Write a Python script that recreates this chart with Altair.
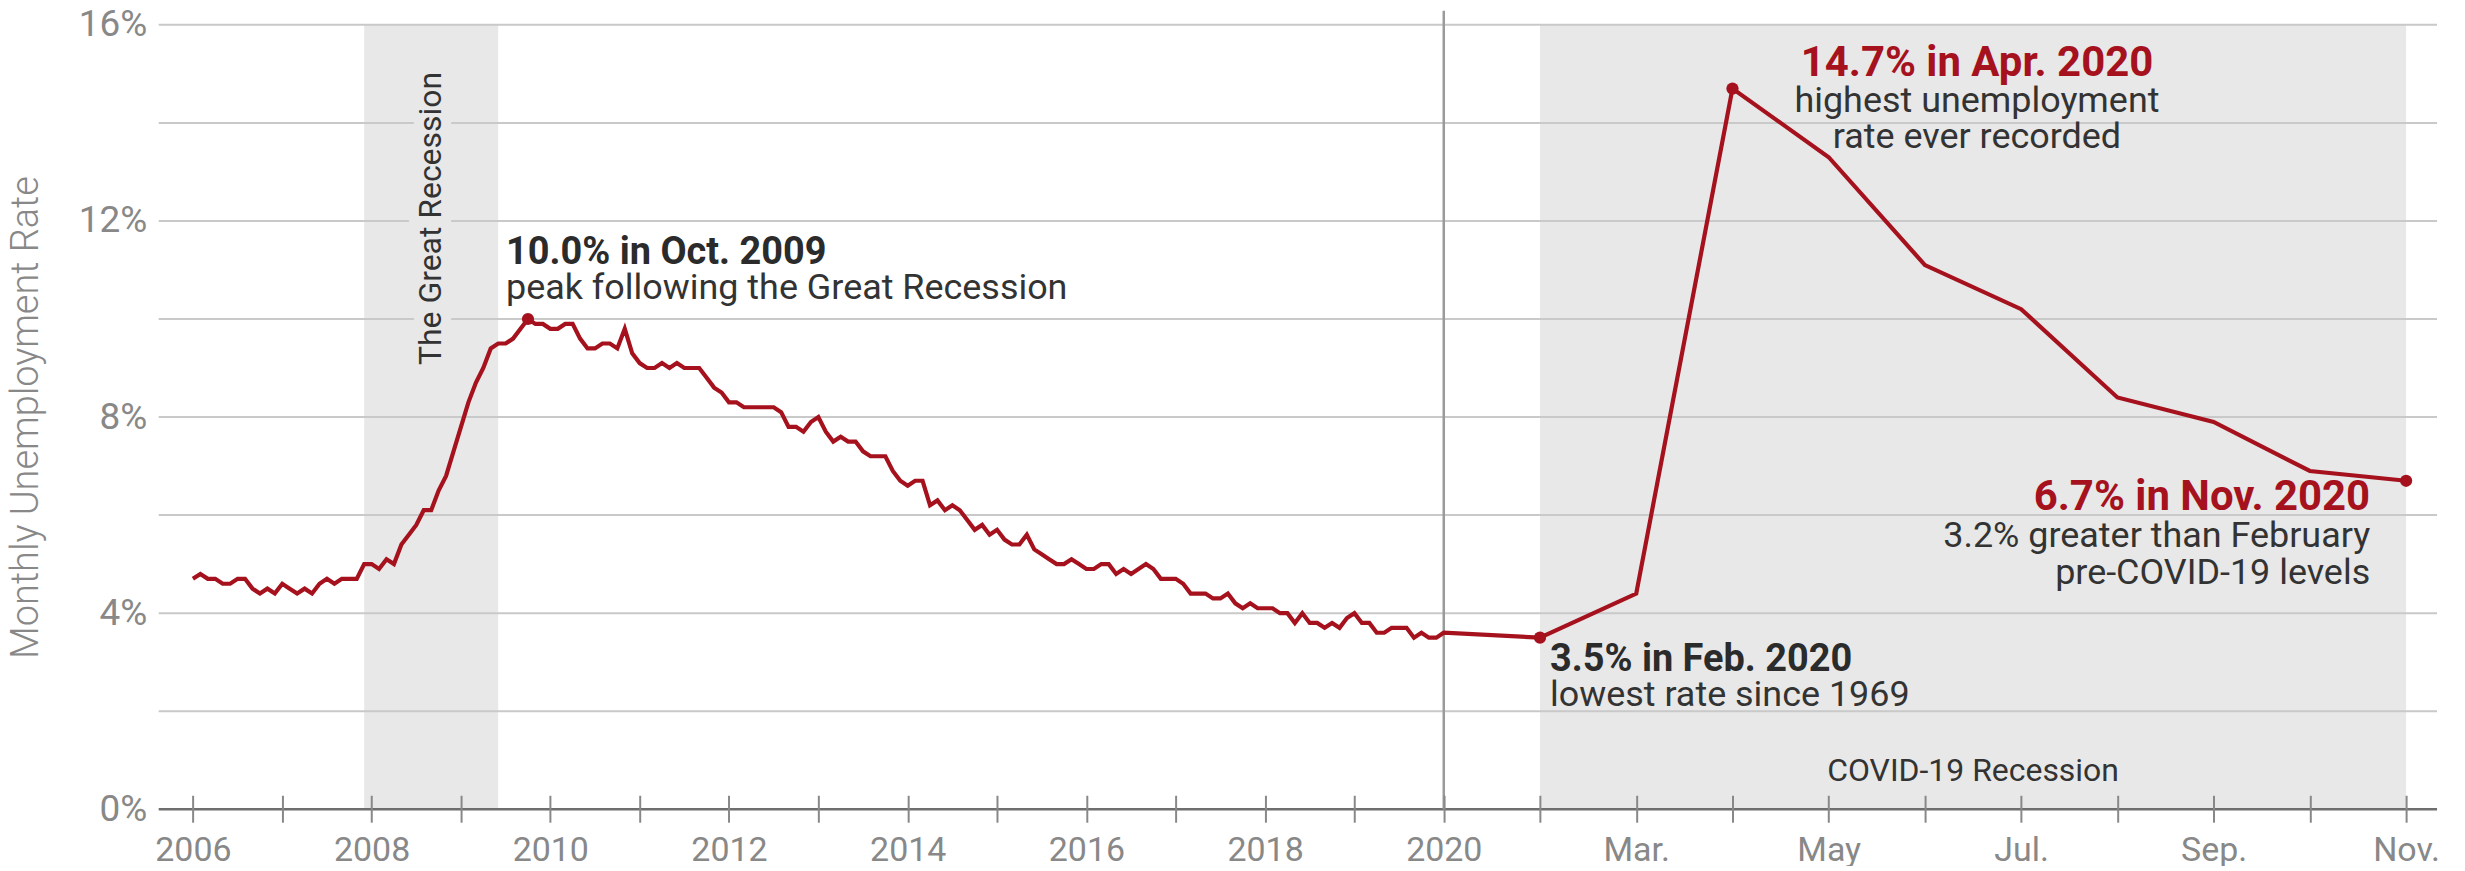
import json
import altair as alt
import pandas as pd

# ---------------- data (monthly unemployment rate, %) ----------------
rates_2006 = [4.7, 4.8, 4.7, 4.7, 4.6, 4.6, 4.7, 4.7, 4.5, 4.4, 4.5, 4.4]
rates_2007 = [4.6, 4.5, 4.4, 4.5, 4.4, 4.6, 4.7, 4.6, 4.7, 4.7, 4.7, 5.0]
rates_2008 = [5.0, 4.9, 5.1, 5.0, 5.4, 5.6, 5.8, 6.1, 6.1, 6.5, 6.8, 7.3]
rates_2009 = [7.8, 8.3, 8.7, 9.0, 9.4, 9.5, 9.5, 9.6, 9.8, 10.0, 9.9, 9.9]
rates_2010 = [9.8, 9.8, 9.9, 9.9, 9.6, 9.4, 9.4, 9.5, 9.5, 9.4, 9.8, 9.3]
rates_2011 = [9.1, 9.0, 9.0, 9.1, 9.0, 9.1, 9.0, 9.0, 9.0, 8.8, 8.6, 8.5]
rates_2012 = [8.3, 8.3, 8.2, 8.2, 8.2, 8.2, 8.2, 8.1, 7.8, 7.8, 7.7, 7.9]
rates_2013 = [8.0, 7.7, 7.5, 7.6, 7.5, 7.5, 7.3, 7.2, 7.2, 7.2, 6.9, 6.7]
rates_2014 = [6.6, 6.7, 6.7, 6.2, 6.3, 6.1, 6.2, 6.1, 5.9, 5.7, 5.8, 5.6]
rates_2015 = [5.7, 5.5, 5.4, 5.4, 5.6, 5.3, 5.2, 5.1, 5.0, 5.0, 5.1, 5.0]
rates_2016 = [4.9, 4.9, 5.0, 5.0, 4.8, 4.9, 4.8, 4.9, 5.0, 4.9, 4.7, 4.7]
rates_2017 = [4.7, 4.6, 4.4, 4.4, 4.4, 4.3, 4.3, 4.4, 4.2, 4.1, 4.2, 4.1]
rates_2018 = [4.1, 4.1, 4.0, 4.0, 3.8, 4.0, 3.8, 3.8, 3.7, 3.8, 3.7, 3.9]
rates_2019 = [4.0, 3.8, 3.8, 3.6, 3.6, 3.7, 3.7, 3.7, 3.5, 3.6, 3.5, 3.5]
rates_2020 = [3.6, 3.5, 4.4, 14.7, 13.3, 11.1, 10.2, 8.4, 7.9, 6.9, 6.7]  # Jan..Nov

all_rates = (rates_2006 + rates_2007 + rates_2008 + rates_2009 + rates_2010 +
             rates_2011 + rates_2012 + rates_2013 + rates_2014 + rates_2015 +
             rates_2016 + rates_2017 + rates_2018 + rates_2019 + rates_2020)
# month index: 0 = Jan 2006, 168 = Jan 2020, 178 = Nov 2020
series = pd.DataFrame({"m": list(range(len(all_rates))), "rate": all_rates})

highlight_months = [45, 169, 171, 178]
highlights = series[series["m"].isin(highlight_months)]

recessions = pd.DataFrame({"start": [23, 169], "end": [41, 178]})  # Dec 2007-Jun 2009, Feb-Nov 2020

tick_values = list(range(0, 169, 12)) + list(range(169, 179))
tick_labels = ["2006", "", "2008", "", "2010", "", "2012", "", "2014", "", "2016", "",
               "2018", "", "2020",
               "", "Mar.", "", "May", "", "Jul.", "", "Sep.", "", "Nov."]
y_tick_values = [0, 4, 8, 12, 16]
grid_values = [2, 4, 6, 8, 10, 12, 14, 16]

# ---------------- layout ----------------
W, H = 2283, 786
FONT = "Roboto"
RED = "#a5121d"
DARK = "#2b2b2b"
TXT = "#333333"
GRAY = "#888888"
SHADE = "#e8e8e8"

xs = alt.Scale(domain=[0, 168, 178], range=[34.3, 1287.7, 2252], nice=False, zero=False)
ys = alt.Scale(domain=[0, 16], nice=False, zero=True)

label_expr = f"{json.dumps(tick_labels)}[indexof({json.dumps(tick_values)}, datum.value)]"

shade = alt.Chart(recessions).mark_rect(color=SHADE).encode(
    x=alt.X("start:Q", scale=xs, axis=None),
    x2="end:Q",
    y=alt.value(0),
    y2=alt.value(H),
)

grid = alt.Chart(pd.DataFrame({"g": grid_values})).mark_rule(color="#c9c9c9", strokeWidth=2).encode(
    y=alt.Y("g:Q", scale=ys, axis=None),
    x=alt.value(0),
    x2=alt.value(W),
)

base_line = alt.Chart(pd.DataFrame({"g": [0]})).mark_rule(color="#6e6e6e", strokeWidth=2.5).encode(
    y=alt.Y("g:Q", scale=ys, axis=None),
    x=alt.value(0),
    x2=alt.value(W),
)

divider = alt.Chart(pd.DataFrame({"m": [168]})).mark_rule(color="#9a9a9a", strokeWidth=2.5).encode(
    x=alt.X("m:Q", scale=xs, axis=None),
    y=alt.value(-14),
    y2=alt.value(H),
)

gr_df = pd.DataFrame({"m": [32], "rate": [12.05], "t": ["The Great Recession"]})
gr_halo = alt.Chart(gr_df).mark_text(
    angle=270, align="center", baseline="middle", font=FONT, fontSize=32,
    stroke=SHADE, strokeWidth=20, color=SHADE,
).encode(x=alt.X("m:Q", scale=xs, axis=None), y=alt.Y("rate:Q", scale=ys, axis=None), text="t:N")
gr_text = alt.Chart(gr_df).mark_text(
    angle=270, align="center", baseline="middle", font=FONT, fontSize=32, color=TXT,
).encode(x=alt.X("m:Q", scale=xs, axis=None), y=alt.Y("rate:Q", scale=ys, axis=None), text="t:N")

covid_df = pd.DataFrame({"m": [173.5], "rate": [0], "t": ["COVID-19 Recession"]})
covid_text = alt.Chart(covid_df).mark_text(
    align="center", baseline="alphabetic", dy=-28, font=FONT, fontSize=32, color=TXT,
).encode(x=alt.X("m:Q", scale=xs, axis=None), y=alt.Y("rate:Q", scale=ys, axis=None), text="t:N")

line = alt.Chart(series).mark_line(color=RED, strokeWidth=4.2, strokeJoin="miter").encode(
    x=alt.X("m:Q", scale=xs, title=None,
            axis=alt.Axis(orient="bottom", values=tick_values, labelExpr=label_expr,
                          domain=False, grid=False,
                          ticks=True, tickSize=27, tickColor=GRAY, tickWidth=2, offset=-14,
                          labelPadding=11, labelFont=FONT, labelFontSize=34, labelColor=GRAY,
                          labelOverlap=False, labelBound=False, labelFlush=False, zindex=1)),
    y=alt.Y("rate:Q", scale=ys,
            axis=alt.Axis(orient="left", values=y_tick_values, labelExpr="datum.value + '%'",
                          domain=False, ticks=False, grid=False, labelPadding=12,
                          labelFont=FONT, labelFontSize=37, labelColor=GRAY,
                          title="Monthly Unemployment Rate", titleFont=FONT, titleFontSize=38,
                          titleFontWeight=300, titleColor=GRAY, titleX=-132, titleY=H / 2,
                          titleAngle=270, titleAlign="center", titleBaseline="middle")),
)

dots = alt.Chart(highlights).mark_circle(color=RED, size=150, opacity=1).encode(
    x=alt.X("m:Q", scale=xs, axis=None),
    y=alt.Y("rate:Q", scale=ys, axis=None),
)


def note(m, rate, text, size, weight, color, align, dx, dy, line_h=37):
    d = pd.DataFrame({"m": [m], "rate": [rate], "t": [text]})
    return alt.Chart(d).mark_text(
        align=align, baseline="alphabetic", dx=dx, dy=dy, font=FONT, fontSize=size,
        fontWeight=weight, color=color, lineBreak="\n", lineHeight=line_h,
    ).encode(x=alt.X("m:Q", scale=xs, axis=None), y=alt.Y("rate:Q", scale=ys, axis=None), text="t:N")


notes = [
    note(45, 10.0, "10.0% in Oct. 2009", 38, "bold", DARK, "left", -22, -55),
    note(45, 10.0, "peak following the Great Recession", 36, "normal", TXT, "left", -22, -20),
    note(169, 3.5, "3.5% in Feb. 2020", 38, "bold", DARK, "left", 10, 33),
    note(169, 3.5, "lowest rate since 1969", 36, "normal", TXT, "left", 10, 68),
    note(171, 14.7, "14.7% in Apr. 2020", 42, "bold", RED, "center", 245, -13),
    note(171, 14.7, "highest unemployment\nrate ever recorded", 36, "normal", TXT, "center", 245, 23),
    note(178, 6.7, "6.7% in Nov. 2020", 42, "bold", RED, "right", -36, 29),
    note(178, 6.7, "3.2% greater than February\npre-COVID-19 levels", 36, "normal", TXT, "right", -36, 66),
]

chart = alt.layer(
    shade, grid, base_line, divider, gr_halo, gr_text, covid_text, line, dots, *notes
).resolve_axis(
    x="independent", y="independent"
).properties(
    width=W, height=H,
    autosize=alt.AutoSizeParams(type="none"),
    padding={"left": 151, "top": 16, "right": 20, "bottom": 56},
    background="white",
).configure_view(stroke=None)

chart.save("out.html", embed_options={"renderer": "svg", "actions": False})
